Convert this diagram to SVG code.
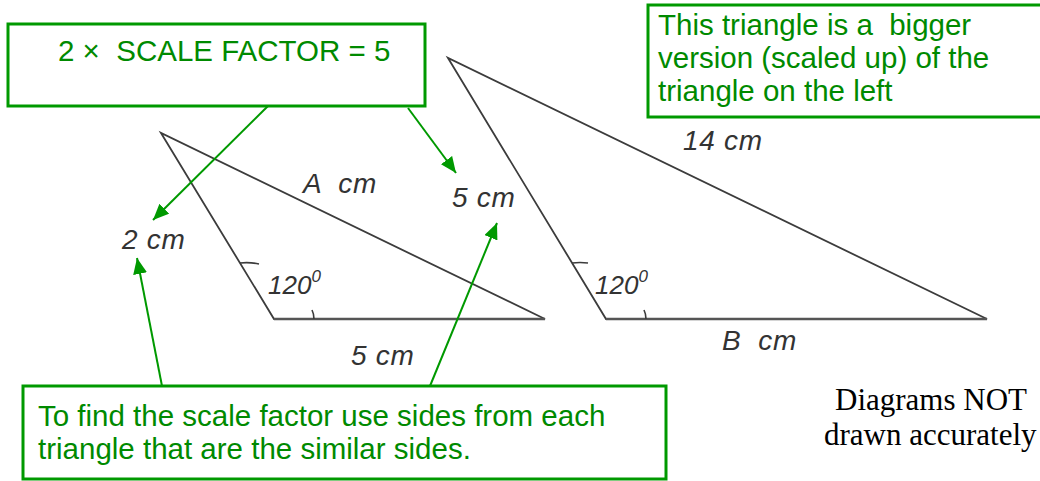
<svg xmlns="http://www.w3.org/2000/svg" width="1040" height="481" viewBox="0 0 1040 481">
<style>
.box{fill:#fff;stroke:#009900;stroke-width:3}
.bt{font-family:"Liberation Sans",Arial,sans-serif;font-size:29.5px;fill:#008a00}
.tri{fill:none;stroke:#3c3c3c;stroke-width:1.8;stroke-linejoin:miter}
.base{stroke:#555;stroke-width:2.6}
.tick{fill:none;stroke:#3c3c3c;stroke-width:1.6}
.lbl{font-family:"Liberation Sans",Arial,sans-serif;font-size:28px;letter-spacing:0.7px;font-style:italic;fill:#333}
.ang{font-family:"Liberation Sans",Arial,sans-serif;font-size:26px;font-style:italic;fill:#333}
.note{font-family:"Liberation Serif","Times New Roman",serif;font-size:31px;fill:#000}
.arr{stroke:#009900;stroke-width:2;fill:none}
</style>
<defs>
<marker id="ah" viewBox="0 0 16 14" refX="16" refY="7" markerWidth="16" markerHeight="14" markerUnits="userSpaceOnUse" orient="auto">
<path d="M0,0 L16,7 L0,14 Z" fill="#009900"/>
</marker>
</defs>
<rect width="1040" height="481" fill="#fff"/>

<g id="triangle-small">
<polygon class="tri" points="161,133 274,319 545,319"/>
<line class="base" x1="274" y1="319" x2="545" y2="319"/>
<path class="tick" d="M240,263 Q250,262 259,264"/>
<path class="tick" d="M312,310 Q314,314 314,319"/>
<text class="lbl" x="122" y="249">2 cm</text>
<text class="lbl" x="303" y="193" xml:space="preserve">A  cm</text>
<text class="lbl" x="351" y="365">5 cm</text>
<text class="ang" x="268" y="294">120<tspan font-size="17" dy="-12">0</tspan></text>
</g>

<g id="triangle-big">
<polygon class="tri" points="448,58 606,319 987,319"/>
<line class="base" x1="606" y1="319" x2="987" y2="319"/>
<path class="tick" d="M572,263 Q580,262 588,263"/>
<path class="tick" d="M644,310 Q646,314 646,319"/>
<text class="lbl" x="452" y="207">5 cm</text>
<text class="lbl" x="683" y="150">14 cm</text>
<text class="lbl" x="722" y="350" xml:space="preserve">B  cm</text>
<text class="ang" x="595" y="294">120<tspan font-size="17" dy="-12">0</tspan></text>
</g>

<g id="box-scale-factor">
<rect class="box" x="8" y="24" width="417" height="82"/>
<text class="bt" x="58" y="61" xml:space="preserve">2 ×  SCALE FACTOR = 5</text>
</g>

<g id="box-bigger">
<rect class="box" x="648" y="5" width="420" height="112"/>
<text class="bt" x="658" y="35" xml:space="preserve">This triangle is a  bigger</text>
<text class="bt" x="658" y="68">version (scaled up) of the</text>
<text class="bt" x="658" y="101">triangle on the left</text>
</g>

<g id="box-find">
<rect class="box" x="23" y="386" width="643" height="93"/>
<text class="bt" x="38" y="426">To find the scale factor use sides from each</text>
<text class="bt" x="38" y="459">triangle that are the similar sides.</text>
</g>

<g id="note">
<text class="note" x="835" y="410">Diagrams NOT</text>
<text class="note" x="824" y="445">drawn accurately</text>
</g>

<g id="connectors">
<line class="arr" x1="268" y1="106" x2="153" y2="220" marker-end="url(#ah)"/>
<line class="arr" x1="408" y1="108" x2="456" y2="173" marker-end="url(#ah)"/>
<line class="arr" x1="162" y1="386" x2="137" y2="258" marker-end="url(#ah)"/>
<line class="arr" x1="430" y1="386" x2="497" y2="223" marker-end="url(#ah)"/>
</g>
</svg>
